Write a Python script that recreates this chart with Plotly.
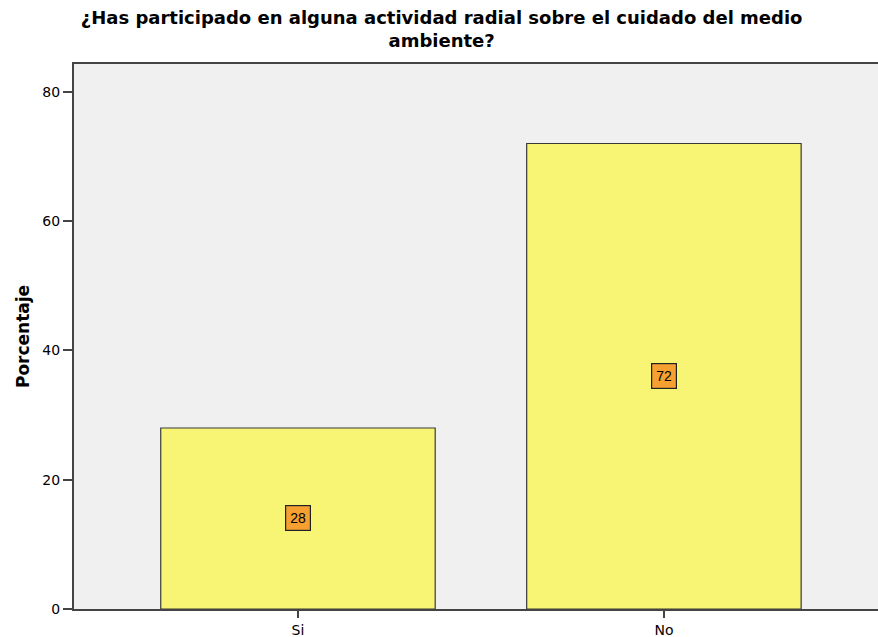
import plotly.graph_objects as go

categories = ["Si", "No"]
values = [28, 72]
y_ticks = [0, 20, 40, 60, 80]

fig = go.Figure()
fig.add_trace(go.Bar(
    x=categories, y=values, width=0.75,
    marker=dict(color="#F8F574", line=dict(color="#3a3a3a", width=1.2)),
    hoverinfo="x+y", showlegend=False,
))
for c, v in zip(categories, values):
    fig.add_annotation(
        x=c, y=v / 2, text=str(v), showarrow=False,
        font=dict(family="Arial, Liberation Sans", size=14, color="#000000"),
        bgcolor="#F5A030", bordercolor="#222222", borderwidth=1.2, borderpad=4,
    )

fig.update_layout(
    width=878, height=637,
    margin=dict(l=74, r=0, t=64, b=28),
    paper_bgcolor="white", plot_bgcolor="#F0F0F0",
    title=dict(
        text="<b>¿Has participado en alguna actividad radial sobre el cuidado del medio<br>ambiente?</b>",
        x=0.503, xanchor="center", yref="paper", y=1, yanchor="bottom",
        pad=dict(b=40),
        font=dict(family="DejaVu Sans", size=18, color="#000000"),
    ),
    font=dict(family="DejaVu Sans", size=14, color="#000000"),
    bargap=0.25,
)
fig.update_xaxes(
    range=[-0.612, 1.585], showline=True, linecolor="#444444", linewidth=2,
    mirror=True, ticks="outside", ticklen=7, tickcolor="#444444", tickwidth=1.5,
    showgrid=False, tickfont=dict(size=14),
)
fig.update_yaxes(
    range=[0, 84.3], tickvals=y_ticks, showline=True, linecolor="#444444", linewidth=2,
    mirror=False, ticks="outside", ticklen=9, tickcolor="#444444", tickwidth=1.5,
    showgrid=False, zeroline=False, tickfont=dict(size=14),
    title=dict(text="<b>Porcentaje</b>", font=dict(size=17), standoff=8),
)
fig.write_html("out.html", config={"displayModeBar": False},
               post_script="document.body.style.margin='0';document.body.style.overflow='hidden';")
